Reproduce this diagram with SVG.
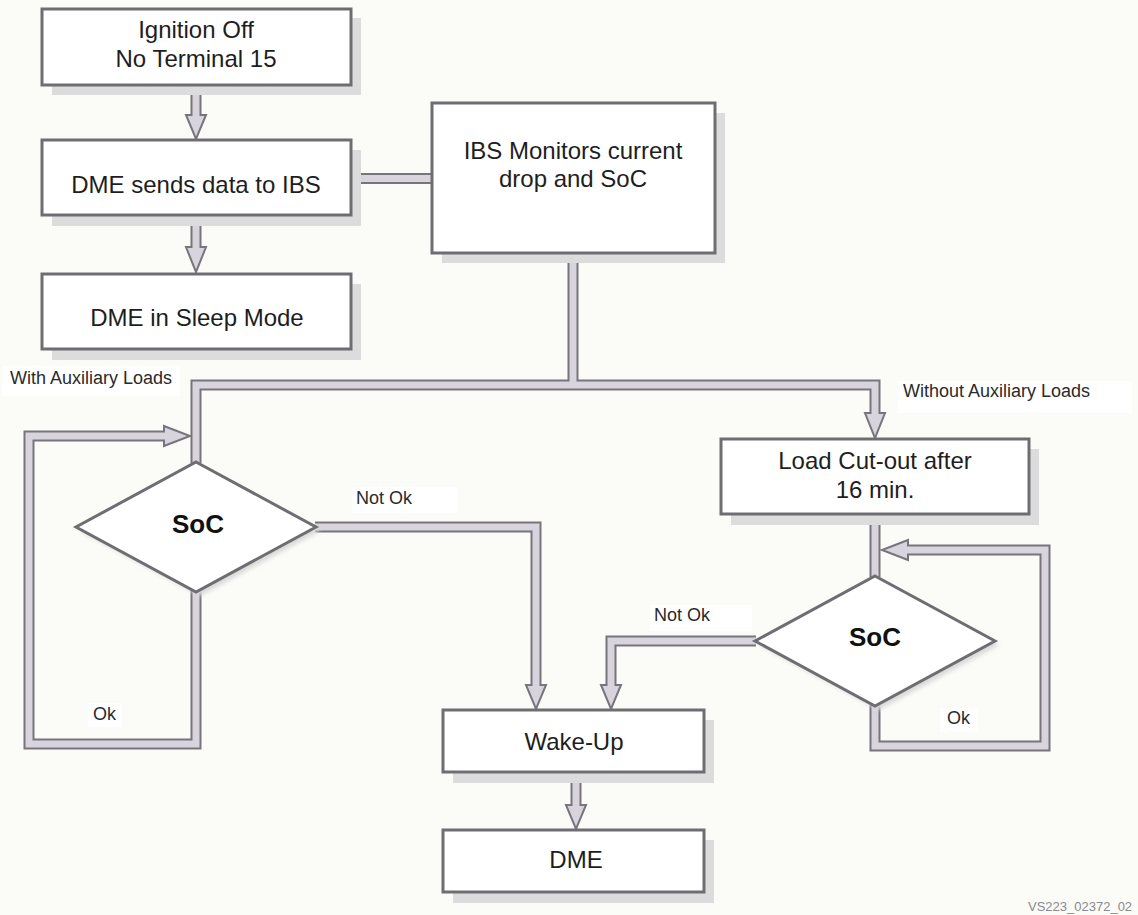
<svg xmlns="http://www.w3.org/2000/svg" xmlns:xlink="http://www.w3.org/1999/xlink" width="1138" height="915" viewBox="0 0 1138 915">
<style>
.bg{fill:#fbfbf8}
.box{fill:#ffffff;stroke:#6f6d72;stroke-width:3}
.shadow{fill:#dddcdc}
.dia{fill:#ffffff;stroke:#6f6d72;stroke-width:3;stroke-linejoin:miter}
.pipeO{fill:none;stroke:#77747b;stroke-width:11;stroke-linejoin:miter;stroke-linecap:butt}
.pipeI{fill:none;stroke:#d8d4dd;stroke-width:7;stroke-linejoin:miter;stroke-linecap:butt}
.head{fill:#d8d4dd;stroke:#77747b;stroke-width:2;stroke-linejoin:miter}
.t{font-family:"Liberation Sans",Arial,sans-serif;font-size:24px;fill:#1e1e1e;text-anchor:middle}
.b{font-family:"Liberation Sans",Arial,sans-serif;font-size:26px;font-weight:bold;fill:#111;text-anchor:middle}
.l{font-family:"Liberation Sans",Arial,sans-serif;font-size:18px;fill:#2a2a2a}
.lbg{fill:#ffffff}
.wm{font-family:"Liberation Sans",Arial,sans-serif;font-size:13px;fill:#8a8a8a}
</style>
<defs>
<filter id="ds" x="-10%" y="-10%" width="130%" height="130%">
<feGaussianBlur stdDeviation="2"/>
</filter>
<path id="p1" d="M196 84 V118"/>
<path id="p2" d="M196 215 V250"/>
<path id="p3" d="M351 178.5 H433"/>
<path id="p4" d="M573 253 V385"/>
<path id="p5" d="M196 463 V385 H875 V416"/>
<path id="p6" d="M196 591 V744 H29 V436 H167"/>
<path id="p7" d="M315 527 H536 V688"/>
<path id="p8" d="M756 641 H611 V688"/>
<path id="p9" d="M875 514 V577"/>
<path id="p10" d="M875 705 V746 H1045 V550 H905"/>
<path id="p11" d="M576 772 V808"/>
</defs>
<rect class="bg" x="0" y="0" width="1138" height="915"/>
<g id="labels-bg">
<rect class="lbg" x="2" y="366" width="178" height="30"/>
<rect class="lbg" x="898" y="381" width="234" height="32"/>
<rect class="lbg" x="352" y="487" width="106" height="26"/>
<rect class="lbg" x="650" y="605" width="102" height="26"/>
<rect class="lbg" x="88" y="703" width="34" height="24"/>
<rect class="lbg" x="940" y="708" width="38" height="24"/>
</g>
<g id="connectors">
<g class="pipeO">
<use xlink:href="#p1"/><use xlink:href="#p2"/><use xlink:href="#p3"/><use xlink:href="#p4"/><use xlink:href="#p5"/><use xlink:href="#p6"/><use xlink:href="#p7"/><use xlink:href="#p8"/><use xlink:href="#p9"/><use xlink:href="#p10"/><use xlink:href="#p11"/>
</g>
<g class="heads">
<polygon class="head" points="186,115 206,115 196,139"/>
<polygon class="head" points="186,247 206,247 196,272"/>
<polygon class="head" points="865,413 885,413 875,438"/>
<polygon class="head" points="164,426 164,446 190,436"/>
<polygon class="head" points="526,685 546,685 536,709"/>
<polygon class="head" points="601,685 621,685 611,709"/>
<polygon class="head" points="908,540 908,560 882,550"/>
<polygon class="head" points="566,805 586,805 576,829"/>
</g>
<g class="pipeI">
<use xlink:href="#p1"/><use xlink:href="#p2"/><use xlink:href="#p3"/><use xlink:href="#p4"/><use xlink:href="#p5"/><use xlink:href="#p6"/><use xlink:href="#p7"/><use xlink:href="#p8"/><use xlink:href="#p9"/><use xlink:href="#p10"/><use xlink:href="#p11"/>
</g>
</g>
<g id="n-ignition">
<rect class="shadow" x="52" y="18" width="309" height="77"/>
<rect class="box" x="42" y="9" width="309" height="76"/>
<text class="t" x="196" y="38">Ignition Off</text>
<text class="t" x="196" y="67">No Terminal 15</text>
</g>
<g id="n-dme-sends">
<rect class="shadow" x="52" y="150" width="309" height="76"/>
<rect class="box" x="42" y="140" width="309" height="75"/>
<text class="t" x="196" y="193">DME sends data to IBS</text>
</g>
<g id="n-dme-sleep">
<rect class="shadow" x="52" y="284" width="309" height="76"/>
<rect class="box" x="42" y="274" width="309" height="75"/>
<text class="t" x="197" y="326">DME in Sleep Mode</text>
</g>
<g id="n-ibs">
<rect class="shadow" x="442" y="113" width="283" height="150"/>
<rect class="box" x="432" y="103" width="283" height="150"/>
<text class="t" x="573" y="159">IBS Monitors current</text>
<text class="t" x="573" y="187">drop and SoC</text>
</g>
<g id="n-soc-left">
<polygon points="200,466 320,531 200,596 80,531" fill="#d9d9d9" filter="url(#ds)"/>
<polygon class="dia" points="196,462 316,527 196,592 76,527"/>
<text class="b" x="198" y="533">SoC</text>
</g>
<g id="n-load">
<rect class="shadow" x="731" y="449" width="308" height="76"/>
<rect class="box" x="721" y="439" width="308" height="75"/>
<text class="t" x="875" y="469">Load Cut-out after</text>
<text class="t" x="875" y="498">16 min.</text>
</g>
<g id="n-soc-right">
<polygon points="879,580 999,645 879,710 759,645" fill="#d9d9d9" filter="url(#ds)"/>
<polygon class="dia" points="875,576 995,641 875,706 755,641"/>
<text class="b" x="875" y="646">SoC</text>
</g>
<g id="n-wakeup">
<rect class="shadow" x="453" y="720" width="261" height="63"/>
<rect class="box" x="443" y="710" width="261" height="62"/>
<text class="t" x="574" y="750">Wake-Up</text>
</g>
<g id="n-dme">
<rect class="shadow" x="453" y="840" width="261" height="63"/>
<rect class="box" x="443" y="830" width="261" height="62"/>
<text class="t" x="576" y="868">DME</text>
</g>
<g id="labels">
<text class="l" x="10" y="384">With Auxiliary Loads</text>
<text class="l" x="903" y="397">Without Auxiliary Loads</text>
<text class="l" x="356" y="504">Not Ok</text>
<text class="l" x="654" y="621">Not Ok</text>
<text class="l" x="93" y="720">Ok</text>
<text class="l" x="947" y="724">Ok</text>
<text class="wm" x="1028" y="911">VS223_02372_02</text>
</g>
</svg>
